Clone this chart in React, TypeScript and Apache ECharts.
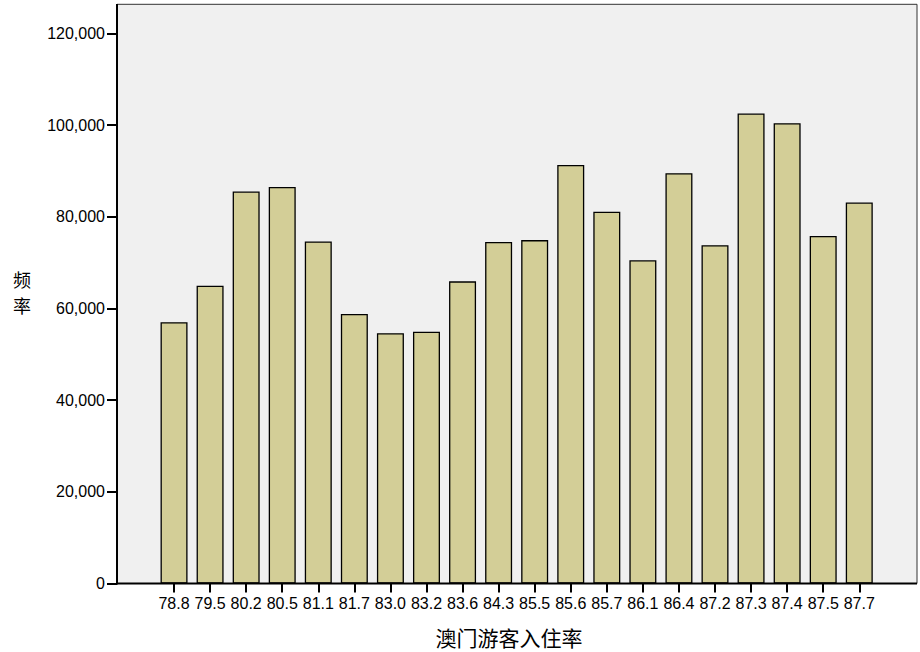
import React, { useEffect, useRef } from "react";
import * as echarts from "echarts";

const categories = ["78.8", "79.5", "80.2", "80.5", "81.1", "81.7", "83.0", "83.2", "83.6", "84.3", "85.5", "85.6", "85.7", "86.1", "86.4", "87.2", "87.3", "87.4", "87.5", "87.7"];
const frequencies = [57000, 64950, 85500, 86500, 74600, 58800, 54600, 54900, 65900, 74500, 74900, 91300, 81100, 70500, 89500, 73800, 102500, 100400, 75800, 83100];
const yTicks = [0, 20000, 40000, 60000, 80000, 100000, 120000];
const xAxisTitle = "澳门游客入住率";
const yAxisTitleChars = ["频", "率"];

export default function App() {
  const ref = useRef<HTMLDivElement>(null);
  useEffect(() => {
    if (!ref.current) return;
    const chart = echarts.init(ref.current, undefined, { renderer: "svg" });
    const latin = "'Liberation Sans', Arial, sans-serif";
    const cjk = "'Noto Sans CJK SC', sans-serif";
    chart.setOption({
      animation: false,
      backgroundColor: "#ffffff",
      grid: { left: 156, right: 42.7, top: 33.3, bottom: 68.5, containLabel: false },
      graphic: [
        { type: "rect", z: -10, shape: { x: 117, y: 4.3, width: 800, height: 579.2 }, style: { fill: "#f0f0f0", stroke: "#333333", lineWidth: 1 } },
        { type: "line", z: 10, shape: { x1: 117, y1: 4, x2: 117, y2: 584.5 }, style: { stroke: "#000", lineWidth: 2 } },
        { type: "line", z: 10, shape: { x1: 116, y1: 583.5, x2: 917, y2: 583.5 }, style: { stroke: "#000", lineWidth: 2 } },
        { type: "text", x: 22, y: 279, style: { text: yAxisTitleChars[0], font: `18px ${cjk}`, fill: "#000", align: "center", verticalAlign: "middle" } },
        { type: "text", x: 22, y: 305, style: { text: yAxisTitleChars[1], font: `18px ${cjk}`, fill: "#000", align: "center", verticalAlign: "middle" } },
        { type: "text", x: 509, y: 636.5, style: { text: xAxisTitle, font: `21px ${cjk}`, fill: "#000", align: "center", verticalAlign: "middle" } },
      ],
      xAxis: {
        type: "category",
        data: categories,
        axisLine: { show: false },
        axisTick: { show: true, alignWithLabel: true, length: 9, lineStyle: { color: "#000", width: 2 } },
        axisLabel: { color: "#000", fontSize: 16, fontFamily: latin, margin: 12, interval: 0 },
      },
      yAxis: {
        type: "value",
        min: 0,
        max: 120000,
        interval: 20000,
        offset: 39,
        axisLine: { show: false },
        axisTick: { show: true, length: 10, lineStyle: { color: "#000", width: 2 } },
        splitLine: { show: false },
        axisLabel: {
          color: "#000",
          fontSize: 16,
          fontFamily: latin,
          margin: 12,
          formatter: (v: number) => (yTicks.includes(v) ? v.toLocaleString("en-US") : ""),
        },
      },
      series: [
        {
          type: "bar",
          data: frequencies,
          barWidth: 27,
          itemStyle: { color: "#d3ce97", borderColor: "#000", borderWidth: 1.3 },
        },
      ],
    });
    return () => chart.dispose();
  }, []);
  return <div ref={ref} style={{ position: "fixed", left: 0, top: 0, width: 920, height: 652 }} />;
}
